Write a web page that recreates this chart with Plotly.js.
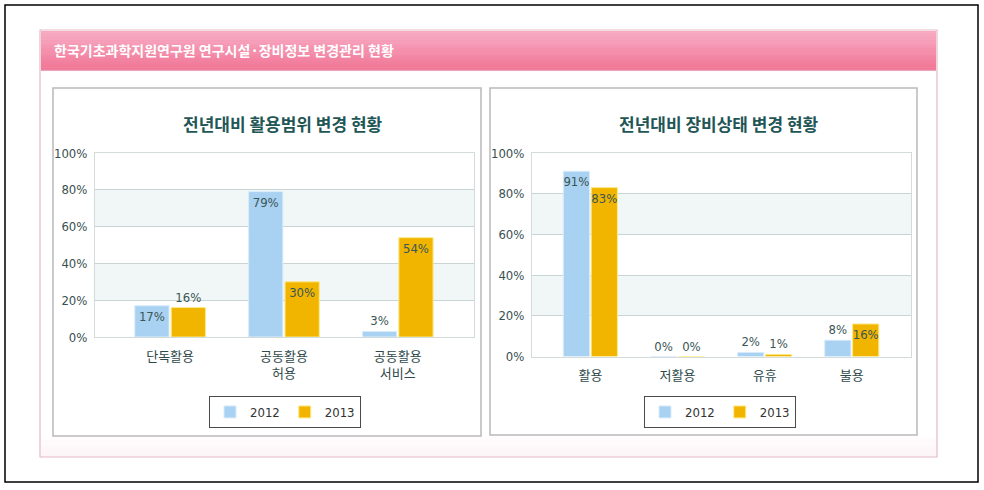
<!DOCTYPE html>
<html>
<head>
<meta charset="utf-8">
<script src="https://cdn.plot.ly/plotly-3.0.1.min.js"></script>
<style>html,body{margin:0;padding:0;background:#fff;}#chart{width:984px;height:490px;}</style>
</head>
<body>
<div id="chart"></div>
<script>
// ---- data ----
const headerTitle = "한국기초과학지원연구원 연구시설·장비정보 변경관리 현황";
const leftTitle = "전년대비 활용범위 변경 현황";
const rightTitle = "전년대비 장비상태 변경 현황";
const seriesNames = ["2012", "2013"];
const leftCategories = ["단독활용", "공동활용<br>허용", "공동활용<br>서비스"];
const left2012 = [17, 79, 3];
const left2013 = [16, 30, 54];
const rightCategories = ["활용", "저활용", "유휴", "불용"];
const right2012 = [91, 0, 2, 8];
const right2013 = [83, 0, 1, 16];
const yTickVals = [0, 20, 40, 60, 80, 100];
const yTickText = ["0%", "20%", "40%", "60%", "80%", "100%"];

// ---- style ----
const W = 984, H = 490;
const fx = x => x / W, fy = y => 1 - y / H;
const C2012 = "#a9d1f1", C2013 = "#f1b500";
const FONT = "'Liberation Sans Narrow', 'DejaVu Sans Condensed', 'Noto Sans CJK KR', sans-serif";
const KFONT = "'Noto Sans CJK KR', sans-serif";
const labelColor = "#3a5656";

const traces = [
  {type: "bar", x: leftCategories, y: left2012, name: seriesNames[0], xaxis: "x", yaxis: "y",
   marker: {color: C2012, line: {color: "#d8ecfb", width: 1}},
   text: left2012.map(v => v + "%"), textposition: ["inside", "inside", "outside"],
   insidetextanchor: "end", textangle: 0, cliponaxis: false,
   textfont: {family: FONT, size: 13, color: labelColor}, legend: "legend", hoverinfo: "skip"},
  {type: "bar", x: leftCategories, y: left2013, name: seriesNames[1], xaxis: "x", yaxis: "y",
   marker: {color: C2013, line: {color: "#fde98a", width: 1}},
   text: left2013.map(v => v + "%"), textposition: ["outside", "inside", "inside"],
   insidetextanchor: "end", textangle: 0, cliponaxis: false,
   textfont: {family: FONT, size: 13, color: labelColor}, legend: "legend", hoverinfo: "skip"},
  {type: "bar", x: rightCategories, y: right2012, name: seriesNames[0], xaxis: "x2", yaxis: "y2",
   marker: {color: C2012, line: {color: "#d8ecfb", width: 1}},
   text: right2012.map(v => v + "%"), textposition: ["inside", "outside", "outside", "outside"],
   insidetextanchor: "end", textangle: 0, cliponaxis: false,
   textfont: {family: FONT, size: 13, color: labelColor}, legend: "legend2", hoverinfo: "skip"},
  {type: "bar", x: rightCategories, y: right2013, name: seriesNames[1], xaxis: "x2", yaxis: "y2",
   marker: {color: C2013, line: {color: "#fde98a", width: 1}},
   text: right2013.map(v => v + "%"), textposition: ["inside", "outside", "outside", "inside"],
   insidetextanchor: "end", textangle: 0, cliponaxis: false,
   textfont: {family: FONT, size: 13, color: labelColor}, legend: "legend2", hoverinfo: "skip"}
];

const shapes = [];
// outer black frame
shapes.push({type: "rect", xref: "paper", yref: "paper", x0: fx(5), x1: fx(978), y0: fy(5), y1: fy(482),
  line: {color: "#000", width: 1.5}, fillcolor: "rgba(0,0,0,0)", layer: "below"});
// pink card
shapes.push({type: "rect", xref: "paper", yref: "paper", x0: fx(40), x1: fx(937), y0: fy(30), y1: fy(457),
  line: {color: "#e3b9c6", width: 1.2}, fillcolor: "#fff", layer: "below"});
// card bottom tint
const tintN = 6;
for (let i = 0; i < tintN; i++) {
  const a = 0.04 + 0.1 * i / tintN;
  shapes.push({type: "rect", xref: "paper", yref: "paper", x0: fx(41), x1: fx(936),
    y0: fy(437 + i * 3.3), y1: fy(437 + (i + 1) * 3.3),
    line: {width: 0}, fillcolor: `rgba(240,170,190,${a.toFixed(3)})`, layer: "below"});
}
// header gradient bar
const hN = 14, hTop = 31, hBot = 70;
for (let i = 0; i < hN; i++) {
  const t = i / (hN - 1);
  const r = Math.round(248 - 8 * t), g = Math.round(170 - 52 * t), b = Math.round(195 - 45 * t);
  shapes.push({type: "rect", xref: "paper", yref: "paper", x0: fx(41), x1: fx(936),
    y0: fy(hTop + (hBot - hTop) * i / hN), y1: fy(hTop + (hBot - hTop) * (i + 1) / hN + 0.5),
    line: {width: 0}, fillcolor: `rgb(${r},${g},${b})`, layer: "below"});
}
shapes.push({type: "line", xref: "paper", yref: "paper", x0: fx(41), x1: fx(936), y0: fy(70), y1: fy(70),
  line: {color: "#e98aa6", width: 1}, layer: "below"});
// panels
shapes.push({type: "rect", xref: "paper", yref: "paper", x0: fx(53), x1: fx(481), y0: fy(88), y1: fy(436),
  line: {color: "#b9b9b9", width: 1.5}, fillcolor: "#fff", layer: "below"});
shapes.push({type: "rect", xref: "paper", yref: "paper", x0: fx(490), x1: fx(917), y0: fy(88), y1: fy(435),
  line: {color: "#b9b9b9", width: 1.5}, fillcolor: "#fff", layer: "below"});
// plot bands
[["x domain", "y"], ["x2 domain", "y2"]].forEach(([xr, yr]) => {
  [[60, 80], [20, 40]].forEach(([a, b]) => {
    shapes.push({type: "rect", xref: xr, yref: yr, x0: 0, x1: 1, y0: a, y1: b,
      line: {width: 0}, fillcolor: "#f1f6f6", layer: "below"});
  });
});

const annotations = [
  {text: headerTitle, xref: "paper", yref: "paper", x: fx(52), y: fy(50), xanchor: "left", yanchor: "middle",
   showarrow: false, font: {family: KFONT, size: 14, color: "#ffffff", weight: "bold"}},
  {text: leftTitle, xref: "paper", yref: "paper", x: fx(283), y: fy(123), xanchor: "center", yanchor: "middle",
   showarrow: false, font: {family: KFONT, size: 17, color: "#1f5656", weight: "bold"}},
  {text: rightTitle, xref: "paper", yref: "paper", x: fx(719), y: fy(123), xanchor: "center", yanchor: "middle",
   showarrow: false, font: {family: KFONT, size: 17, color: "#1f5656", weight: "bold"}}
];

const yAxisBase = {
  range: [0, 100], tickvals: yTickVals, ticktext: yTickText, showgrid: true, gridcolor: "#c9d4d4", gridwidth: 1,
  zeroline: false, showline: true, linecolor: "#d3dbdb", mirror: true, ticks: "", fixedrange: true,
  tickfont: {family: FONT, size: 13, color: "#3a5050"}, ticklabelstandoff: 4
};
const xAxisBase = {
  type: "category", showgrid: false, zeroline: false, showline: true, linecolor: "#d3dbdb", mirror: true,
  ticks: "", fixedrange: true, tickfont: {family: KFONT, size: 13, color: "#2f4a4a"}, ticklabelstandoff: 7
};

const layout = {
  width: W, height: H, margin: {l: 0, r: 0, t: 0, b: 0},
  paper_bgcolor: "#ffffff", plot_bgcolor: "rgba(255,255,255,0)",
  barmode: "group", bargap: 0.36, bargroupgap: 0.06,
  uniformtext: {mode: "show", minsize: 13},
  xaxis: Object.assign({}, xAxisBase, {domain: [fx(95), fx(474)], range: [-0.66, 2.67], anchor: "y"}),
  yaxis: Object.assign({}, yAxisBase, {domain: [fy(337), fy(153)], anchor: "x"}),
  xaxis2: Object.assign({}, xAxisBase, {domain: [fx(532), fx(911)], range: [-0.67, 3.68], anchor: "y2"}),
  yaxis2: Object.assign({}, yAxisBase, {domain: [fy(356.5), fy(153)], anchor: "x2"}),
  legend: {orientation: "h", x: fx(285), y: fy(412), xanchor: "center", yanchor: "middle",
    bgcolor: "#ffffff", bordercolor: "#4a4a4a", borderwidth: 1,
    font: {family: FONT, size: 13, color: "#333"}, itemwidth: 30},
  legend2: {orientation: "h", x: fx(720), y: fy(412), xanchor: "center", yanchor: "middle",
    bgcolor: "#ffffff", bordercolor: "#4a4a4a", borderwidth: 1,
    font: {family: FONT, size: 13, color: "#333"}, itemwidth: 30},
  showlegend: true,
  shapes: shapes,
  annotations: annotations
};

Plotly.newPlot("chart", traces, layout, {displayModeBar: false, staticPlot: true});
</script>
</body>
</html>
